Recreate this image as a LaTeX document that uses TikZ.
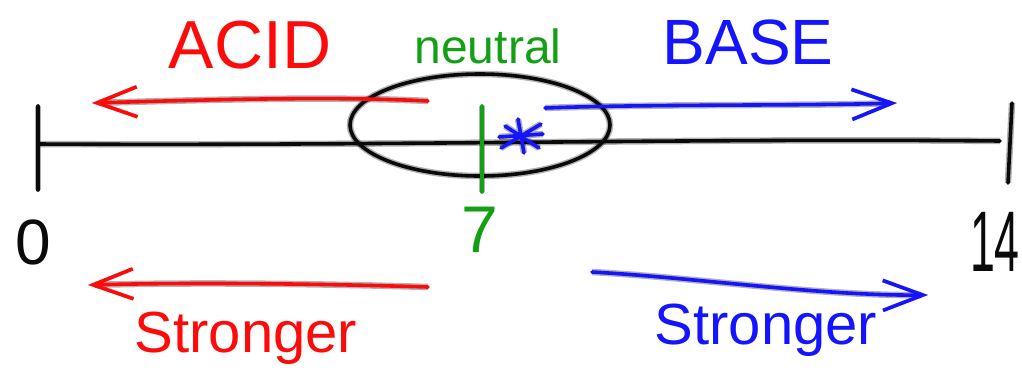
\documentclass[tikz,border=0pt]{standalone}
\usepackage{fontspec}
\setmainfont{Liberation Sans}
\usetikzlibrary{arrows.meta}
\definecolor{inkred}{RGB}{255,10,10}
\definecolor{inkblue}{RGB}{20,20,255}
\definecolor{inkgreen}{RGB}{20,160,20}
\definecolor{inkblack}{RGB}{10,10,10}
\newcommand{\hand}[1]{\fontsize{#1}{#1}\selectfont}

\begin{document}
\begin{tikzpicture}[
    x=1pt,y=-1pt,
    ink/.style={line width=3.6pt,line cap=round,line join=round,
      preaction={draw,line width=6.5pt,opacity=0.3}},
    barb/.style={-{Straight Barb[length=40pt,width=30pt,line width=3.6pt]}},
    lbl/.style={inner sep=0pt}
  ]
    \clip (0,0) rectangle (1022,376);
    \fill[white] (0,0) rectangle (1022,376);

    \coordinate (lo) at (38,144);
    \coordinate (hi) at (1000,141);
    \coordinate (lotop) at (38,106);
    \coordinate (lobot) at (38,190);
    \coordinate (hitop) at (1012,103);
    \coordinate (hibot) at (1008,183);
    \coordinate (seventop) at (482,106);
    \coordinate (sevenbot) at (482,192);
    \coordinate (mid) at (480,125);
    \coordinate (star) at (521,136);

    \coordinate (acidstart) at (428,101);
    \coordinate (acidend) at (92,103);
    \coordinate (basestart) at (545,108);
    \coordinate (baseend) at (897,103);
    \coordinate (lowstart) at (428,287);
    \coordinate (lowend) at (88,285);
    \coordinate (highstart) at (592,272);
    \coordinate (highend) at (928,295);

    \node[lbl,text=inkred,font=\hand{68}] (acid) at (250,45) {ACID};
    \node[lbl,text=inkgreen,font=\hand{48}] (neutral) at (488,46) {neutral};
    \node[lbl,text=inkblue,font=\hand{64}] (base) at (748,42) {BASE};
    \node[lbl,text=inkblack,font=\hand{64}] (zero) at (33,242) {0};
    \node[lbl,text=inkgreen,font=\hand{66}] (seven) at (480,230) {7};
    \node[lbl,text=inkblack,font=\hand{86},anchor=west,xscale=0.52] (fourteen) at (970,242) {14};
    \node[lbl,text=inkred,font=\hand{58}] (strongacid) at (246,338) {Stronger};
    \node[lbl,text=inkblue,font=\hand{58}] (strongbase) at (766,330) {Stronger};

    \draw[ink,inkblack] (lo) .. controls (400,146) and (700,138) .. (hi);
    \draw[ink,inkblack] (lotop) -- (lobot);
    \draw[ink,inkblack] (hitop) -- (hibot);
    \draw[ink,inkblack] (mid) ellipse [x radius=130,y radius=51];
    \draw[ink,inkgreen] (seventop) -- (sevenbot);

    \draw[ink,inkblue] (star) ++(-20,12) -- ++(40,-24)
      (star) ++(-16,-10) -- ++(34,22)
      (star) ++(-3,-17) -- ++(6,34)
      (star) ++(-22,1) -- ++(44,-3);

    \draw[ink,barb,inkred] (acidstart) .. controls (330,96) and (200,100) .. (acidend);
    \draw[ink,barb,inkblue] (basestart) .. controls (650,104) and (800,106) .. (baseend);
    \draw[ink,barb,inkred] (lowstart) .. controls (330,284) and (200,282) .. (lowend);
    \draw[ink,barb,inkblue] (highstart) .. controls (700,278) and (820,296) .. (highend);
  \end{tikzpicture}
\end{document}
